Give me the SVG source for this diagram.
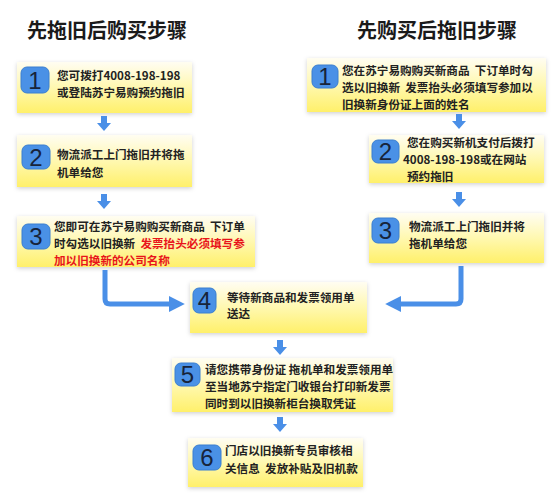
<svg xmlns="http://www.w3.org/2000/svg" width="558" height="498" viewBox="0 0 558 498">
<defs>
<linearGradient id="yg" x1="0" y1="0" x2="0" y2="1">
<stop offset="0" stop-color="#fffdf2"/>
<stop offset="0.5" stop-color="#fff8b0"/>
<stop offset="1" stop-color="#fff06a"/>
</linearGradient>
<filter id="sh" x="-10%" y="-10%" width="120%" height="130%">
<feDropShadow dx="0" dy="1.5" stdDeviation="2" flood-color="#000" flood-opacity="0.18"/>
</filter>
<marker id="ah" viewBox="0 0 10 10" refX="2" refY="5" markerWidth="3.2" markerHeight="3.2" orient="auto" markerUnits="strokeWidth">
<path d="M0,0 L10,5 L0,10 z" fill="#4a8fe7"/>
</marker>
<path id="dn" d="M-3,0 H3 V7 H7 L0,15 L-7,7 H-3 Z"/>
</defs>
<style>
.box{fill:url(#yg);filter:url(#sh)}
.bd{fill:#4a91e6;stroke:#3b7fd0;stroke-width:1}
.num{font-family:"Liberation Sans",Arial,sans-serif;font-size:24px;fill:#17243a;text-anchor:middle}
.t{font-family:"Noto Sans CJK SC","Noto Sans",sans-serif;font-size:11.6px;font-weight:bold;fill:#222;white-space:pre}
.r{fill:#e8141b}
.ti{font-family:"Noto Sans CJK SC","Noto Sans",sans-serif;font-size:20px;font-weight:bold;fill:#1a1a1a}
.ar{fill:#4a8fe7}
.cn{fill:none;stroke:#4a8fe7;stroke-width:5;stroke-linejoin:round}
</style>
<rect width="558" height="498" fill="#fff"/>
<text class="ti" x="27" y="38">先拖旧后购买步骤</text>
<text class="ti" x="357" y="38">先购买后拖旧步骤</text>

<g id="L1">
<rect class="box" x="17" y="62" width="175" height="51"/>
<rect class="bd" x="21" y="67" width="28" height="26" rx="6"/>
<text class="num" x="35" y="89">1</text>
<text class="t" x="57" y="80">您可拨打4008-198-198</text>
<text class="t" x="57" y="97">或登陆苏宁易购预约拖旧</text>
</g>
<g id="L2">
<rect class="box" x="17" y="135" width="175" height="52"/>
<rect class="bd" x="22" y="145" width="28" height="24" rx="6"/>
<text class="num" x="36" y="166">2</text>
<text class="t" x="57" y="159">物流派工上门拖旧并将拖</text>
<text class="t" x="57" y="177">机单给您</text>
</g>
<g id="L3">
<rect class="box" x="17" y="216" width="238" height="51"/>
<rect class="bd" x="22" y="224" width="28" height="25" rx="6"/>
<text class="num" x="36" y="245">3</text>
<text class="t" x="54" y="231">您即可在苏宁易购购买新商品  下订单</text>
<text class="t" x="54" y="248">时勾选以旧换新  <tspan class="r">发票抬头必须填写参</tspan></text>
<text class="t r" x="54" y="265">加以旧换新的公司名称</text>
</g>
<g id="R1">
<rect class="box" x="307" y="58" width="239" height="54"/>
<rect class="bd" x="312" y="65" width="26" height="23" rx="6"/>
<text class="num" x="325" y="85">1</text>
<text class="t" x="342" y="75">您在苏宁易购购买新商品  下订单时勾</text>
<text class="t" x="342" y="92">选以旧换新  发票抬头必须填写参加以</text>
<text class="t" x="342" y="109">旧换新身份证上面的姓名</text>
</g>
<g id="R2">
<rect class="box" x="369" y="135" width="175" height="48"/>
<rect class="bd" x="372" y="140" width="27" height="23" rx="6"/>
<text class="num" x="385.5" y="160">2</text>
<text class="t" x="407" y="147">您在购买新机支付后拨打</text>
<text class="t" x="403" y="164">4008-198-198或在网站</text>
<text class="t" x="407" y="181">预约拖旧</text>
</g>
<g id="R3">
<rect class="box" x="369" y="213" width="175" height="50"/>
<rect class="bd" x="372" y="218" width="27" height="25" rx="6"/>
<text class="num" x="385.5" y="239">3</text>
<text class="t" x="409" y="231">物流派工上门拖旧并将</text>
<text class="t" x="409" y="248">拖机单给您</text>
</g>
<g id="N4">
<rect class="box" x="190" y="282" width="177" height="51"/>
<rect class="bd" x="193" y="288" width="23" height="25" rx="6"/>
<text class="num" x="204.5" y="309">4</text>
<text class="t" x="227" y="302">等待新商品和发票领用单</text>
<text class="t" x="227" y="318">送达</text>
</g>
<g id="N5">
<rect class="box" x="172" y="358" width="221" height="54"/>
<rect class="bd" x="175" y="363" width="25" height="23" rx="6"/>
<text class="num" x="187.5" y="383">5</text>
<text class="t" x="205" y="374">请您携带身份证 拖机单和发票领用单</text>
<text class="t" x="205" y="391">至当地苏宁指定门收银台打印新发票</text>
<text class="t" x="205" y="408">同时到以旧换新柜台换取凭证</text>
</g>
<g id="N6">
<rect class="box" x="188" y="438" width="175" height="49"/>
<rect class="bd" x="193" y="445" width="28" height="25" rx="6"/>
<text class="num" x="207" y="466">6</text>
<text class="t" x="225" y="455">门店以旧换新专员审核相</text>
<text class="t" x="225" y="473">关信息  发放补贴及旧机款</text>
</g>

<g id="connectors">
<use href="#dn" class="ar" x="104" y="116"/>
<use href="#dn" class="ar" x="104" y="194"/>
<use href="#dn" class="ar" x="459" y="114"/>
<use href="#dn" class="ar" x="459" y="192"/>
<use href="#dn" class="ar" x="280" y="340"/>
<use href="#dn" class="ar" x="280" y="417"/>
<path class="cn" d="M105,270 V299 Q105,304 110,304 H172" marker-end="url(#ah)"/>
<path class="cn" d="M461,266 V299 Q461,304 456,304 H398" marker-end="url(#ah)"/>
</g>
</svg>
